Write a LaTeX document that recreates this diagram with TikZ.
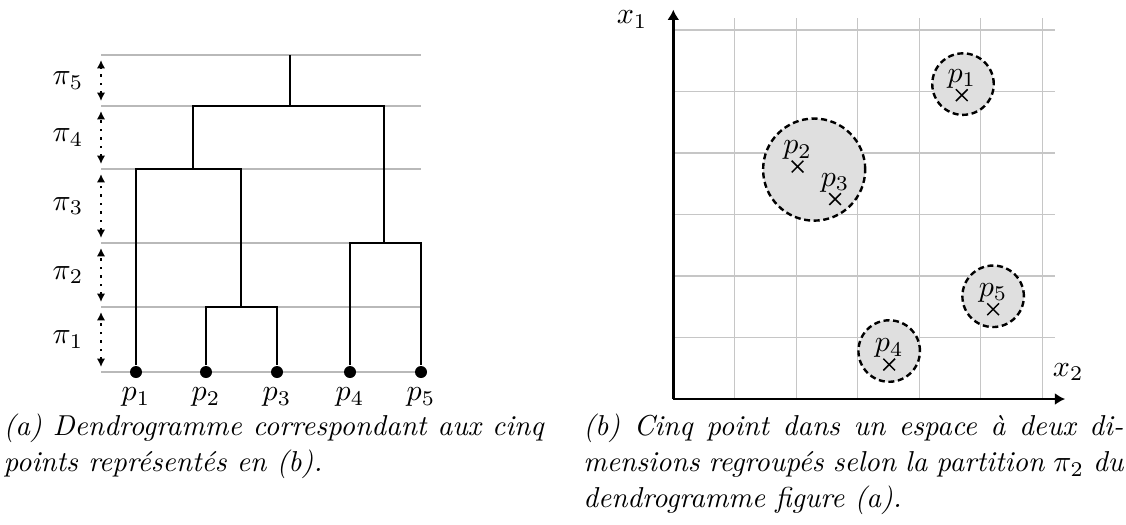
\documentclass[tikz,border=0pt]{standalone}
\usepackage{fontspec}
\usetikzlibrary{arrows.meta,shapes.misc}

\tikzset{
  level/.style={gray!55, line width=0.4pt},
  band/.style={dotted, line width=0.8pt,
    {Latex[length=2.8pt,width=2.8pt]}-{Latex[length=2.8pt,width=2.8pt]}},
  link/.style={line width=0.8pt},
  leaf/.style={circle, fill=black, inner sep=0pt, minimum size=4pt},
  gridline/.style={gray!45, line width=0.4pt},
  axis/.style={line width=0.8pt, -{Latex[length=3.4pt,width=4pt]}},
  cluster/.style={draw, fill=gray!25, line width=0.8pt, dash pattern=on 2pt off 1.2pt},
  pt/.style={cross out, draw, minimum size=3.4pt, inner sep=0pt, line width=0.5pt},
  caption/.style={text width=180pt, align=justify, inner sep=0pt,
    font=\fontsize{9.6}{12}\selectfont\itshape}
}

\begin{document}
\begin{tikzpicture}[x=0.3333pt, y=0.3333pt]
  \useasboundingbox (0,0) rectangle (1126,524);

  % (a) dendrogramme
  \foreach \y in {152,217,281,355,418,469}
    \draw[level] (101,\y) -- (421,\y);
  \foreach \k/\lo/\hi in {1/152/217, 2/217/281, 3/281/355, 4/355/418, 5/418/469} {
    \draw[band] (101,\lo+5) -- (101,\hi-5);
    \node (pi\k) at (68,{(\lo+\hi)/2}) {$\pi_\k$};
  }
  \foreach \i/\x in {1/136, 2/206, 3/277, 4/350, 5/421}
    \node[leaf, label={[inner sep=0pt, label distance=2.8pt]below:$p_\i$}] (p\i) at (\x,152) {};
  \coordinate (m23) at (241,217);
  \coordinate (m45) at (384,281);
  \coordinate (m123) at (193,355);
  \coordinate (j) at (290,418);
  \coordinate (top) at (290,469);
  \draw[link] (p2) |- (m23) -| (p3);
  \draw[link] (p4) |- (m45) -| (p5);
  \draw[link] (p1) |- (m123) -| (m23);
  \draw[link] (m123) |- (j) -| (m45);
  \draw[link] (j) -- (top);

  % (b) points et partition pi_2
  \begin{scope}[shift={(673.3,125)}, x=20.5pt, y=20.5pt]
    \draw[gridline, step=1] (0,0) grid (6.2,6.2);
    \coordinate (O) at (0,0);
    \coordinate (xend) at (6.37,0);
    \coordinate (yend) at (0,6.33);
    \draw[axis] (O) -- (xend);
    \draw[axis] (O) -- (yend);
    \node (lx1) at (-0.67,6.17) {$x_1$};
    \node (lx2) at (6.42,0.44) {$x_2$};
    \draw[cluster] (4.71,5.12) circle (0.5);
    \draw[cluster] (2.29,3.73) circle (0.83);
    \draw[cluster] (3.51,0.78) circle (0.5);
    \draw[cluster] (5.2,1.67) circle (0.5);
    \foreach \i/\p in {1/{4.69,4.94}, 2/{2.02,3.78}, 3/{2.63,3.25}, 4/{3.51,0.56}, 5/{5.2,1.46}}
      \node[pt, label={[inner sep=0pt, label distance=0.2pt]above:$p_\i$}] (q\i) at (\p) {};
  \end{scope}

  % legendes
  \node[caption, anchor=base west] (capa) at (3,88.3)
    {(a) Dendrogramme correspondant aux cinq\linebreak points représentés en (b).};
  \node[caption, anchor=base west] (capb) at (582.7,88.3)
    {(b) Cinq point dans un espace à deux di-\linebreak mensions regroupés selon la partition $\pi_2$ du\linebreak dendrogramme figure (a).};
\end{tikzpicture}
\end{document}
